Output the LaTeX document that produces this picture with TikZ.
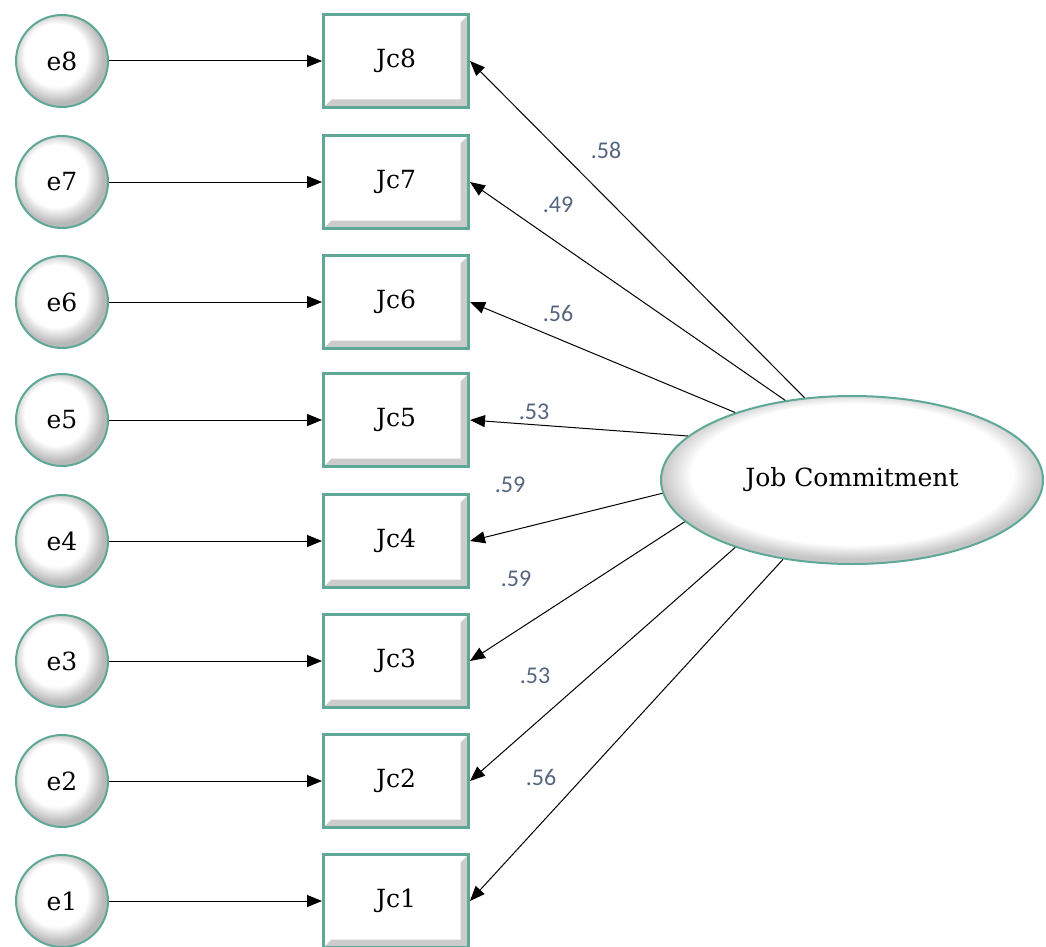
\documentclass[tikz,border=0pt]{standalone}
\usepackage{fontspec}
\setmainfont{DejaVu Serif}
\newfontfamily\coeffont{Carlito}
\usetikzlibrary{arrows.meta,shapes.geometric}

\definecolor{rimteal}{HTML}{5FA898}
\definecolor{coefgray}{HTML}{56657F}
\pgfdeclareradialshading{ballrim}{\pgfpoint{-5bp}{5bp}}{color(0bp)=(white); color(17bp)=(white); color(25bp)=(gray!55); color(50bp)=(gray!55)}
\pgfdeclareradialshading{ovalrim}{\pgfpoint{0bp}{3bp}}{color(0bp)=(white); color(21bp)=(white); color(25bp)=(gray!45); color(50bp)=(gray!45)}

\begin{document}
\begin{tikzpicture}[x=1pt,y=-1pt,>={Triangle[length=15pt,width=12pt]},line width=1pt,
    font=\fontsize{25}{29}\selectfont,
    err node/.style={circle,draw=rimteal,line width=2pt,minimum size=92pt,shading=ballrim},
    obs node/.style={rectangle,draw=rimteal,line width=3pt,minimum width=145pt,minimum height=93pt,fill=white,
        path picture={\fill[gray!40] (path picture bounding box.south east) -- (path picture bounding box.north east)
            -- ([xshift=-8pt,yshift=-8pt]path picture bounding box.north east) -- ([xshift=-8pt,yshift=8pt]path picture bounding box.south east)
            -- ([xshift=8pt,yshift=8pt]path picture bounding box.south west) -- (path picture bounding box.south west) -- cycle;}},
    lat node/.style={ellipse,draw=rimteal,line width=2pt,minimum width=382pt,minimum height=168pt,shading=ovalrim},
    coef/.style={text=coefgray,font=\coeffont\fontsize{24}{24}\selectfont}]
    \useasboundingbox (0,0) rectangle (1046,947);

    % error terms and indicators
    \foreach \i/\y in {8/61,7/182,6/302,5/420,4/541,3/661,2/781,1/901} {
        \node[err node] (e\i) at (62,\y) {e\i};
        \node[obs node] (Jc\i) at (396,\y) {Jc\i};
        \draw[->] (e\i) -- (Jc\i);
    }

    % latent factor
    \node[lat node] (JC) at (852,480) {Job Commitment};

    \foreach \i/\a in {8/120,7/130,6/150,5/165,4/184,3/194,2/210,1/229}
        \draw[->] (JC.\a) -- (Jc\i.east);

    % loadings
    \node[coef] (l8) at (606,150) {.58};
    \node[coef] (l7) at (558,205) {.49};
    \node[coef] (l6) at (558,313) {.56};
    \node[coef] (l5) at (534,412) {.53};
    \node[coef] (l4) at (510,485) {.59};
    \node[coef] (l3) at (516,579) {.59};
    \node[coef] (l2) at (535,676) {.53};
    \node[coef] (l1) at (541,777) {.56};
\end{tikzpicture}
\end{document}
